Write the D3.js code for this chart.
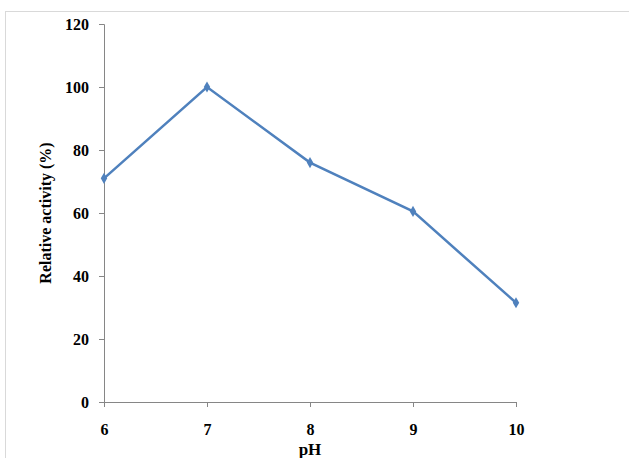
<!DOCTYPE html>
<html>
<head>
<meta charset="utf-8">
<script src="https://cdn.jsdelivr.net/npm/d3@7"></script>
<style>
  body { margin: 0; background: #fff; }
</style>
</head>
<body>
<svg id="chart" width="629" height="458"></svg>
<script>
  const phValues = [6, 7, 8, 9, 10];
  const activity = [71, 100, 76, 60.5, 31.5];
  const yTicks = [0, 20, 40, 60, 80, 100, 120];
  const serif = '"Liberation Serif", "Times New Roman", serif';

  const svg = d3.select('#chart');

  // light outer frame like the original figure
  svg.append('rect').attr('x', 5.5).attr('y', 11.5).attr('width', 640).attr('height', 460)
    .attr('fill', 'none').attr('stroke', '#d9d9d9');

  const x = d3.scaleLinear().domain([6, 10]).range([104, 516]);
  const y = d3.scaleLinear().domain([0, 120]).range([402, 24]);

  const yAxis = svg.append('g').attr('transform', 'translate(104,0)')
    .call(d3.axisLeft(y).tickValues(yTicks).tickFormat(d3.format('d')).tickSize(5).tickPadding(10));
  const xAxis = svg.append('g').attr('transform', 'translate(0,402)')
    .call(d3.axisBottom(x).tickValues(phValues).tickFormat(d3.format('d')).tickSize(5).tickPadding(17));

  [yAxis, xAxis].forEach(g => {
    g.selectAll('path, line').attr('stroke', '#868686');
    g.selectAll('text').style('font-size', '16px').style('fill', '#000')
      .style('font-family', serif).style('font-weight', 'bold');
  });

  svg.append('text').attr('x', 310).attr('y', 455).attr('text-anchor', 'middle')
    .style('font-family', serif).style('font-weight', 'bold').style('font-size', '17px').text('pH');
  svg.append('text').attr('transform', 'translate(51,213) rotate(-90)')
    .attr('text-anchor', 'middle')
    .style('font-family', serif).style('font-weight', 'bold').style('font-size', '16px')
    .text('Relative activity (%)');

  const pts = phValues.map((p, i) => [p, activity[i]]);
  svg.append('path').datum(pts)
    .attr('fill', 'none').attr('stroke', '#4f81bd').attr('stroke-width', 2.5)
    .attr('d', d3.line().x(d => x(d[0])).y(d => y(d[1])));

  svg.selectAll('.pt').data(pts).join('path')
    .attr('transform', d => `translate(${x(d[0])},${y(d[1])})`)
    .attr('d', d3.symbol(d3.symbolDiamond, 36))
    .attr('fill', '#4f81bd');
</script>
</body>
</html>
